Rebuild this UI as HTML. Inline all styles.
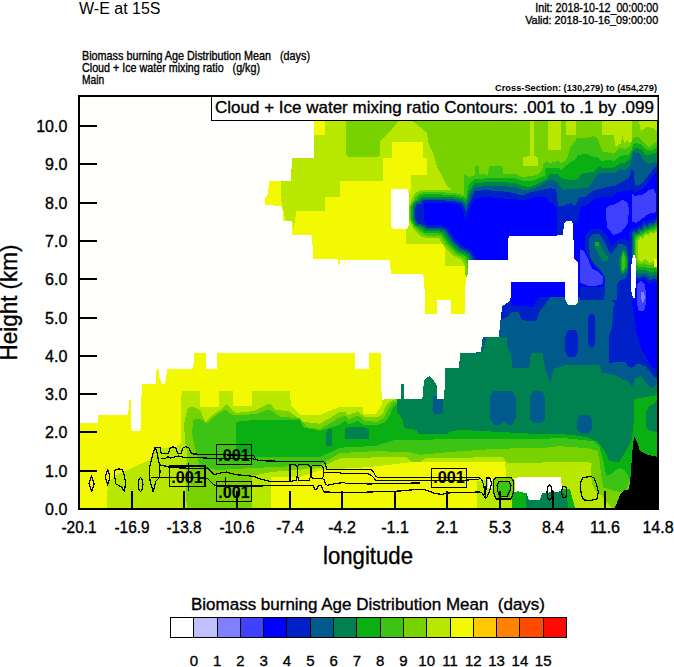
<!DOCTYPE html>
<html><head><meta charset="utf-8"><title>W-E at 15S</title><style>
html,body{margin:0;padding:0;background:#fff;width:674px;height:667px;overflow:hidden}
svg{display:block}
text{font-family:"Liberation Sans",sans-serif;white-space:pre;fill:#000}
.s{stroke:#000;stroke-width:0.35px}
</style></head><body>
<svg width="674" height="667" viewBox="0 0 674 667">
<text x="79" y="13.5" font-size="16" textLength="81.5" lengthAdjust="spacingAndGlyphs">W-E at 15S</text>
<text x="82" y="60" font-size="12.4" class="s" textLength="228" lengthAdjust="spacingAndGlyphs">Biomass burning Age Distribution Mean   (days)</text>
<text x="82" y="72" font-size="12.4" class="s" textLength="178" lengthAdjust="spacingAndGlyphs">Cloud + Ice water mixing ratio   (g/kg)</text>
<text x="82" y="84" font-size="12.4" class="s" textLength="22.2" lengthAdjust="spacingAndGlyphs">Main</text>
<text x="658.2" y="12" font-size="12.2" class="s" text-anchor="end" textLength="123" lengthAdjust="spacingAndGlyphs">Init: 2018-10-12_00:00:00</text>
<text x="658.2" y="24" font-size="11.4" class="s" text-anchor="end" textLength="133" lengthAdjust="spacingAndGlyphs">Valid: 2018-10-16_09:00:00</text>
<text x="657" y="91.2" font-size="8.4" font-weight="bold" text-anchor="end" textLength="162" lengthAdjust="spacingAndGlyphs">Cross-Section: (130,279) to (454,279)</text>
<rect x="79" y="96" width="579" height="413" fill="#FEFEFC"/>
<g shape-rendering="crispEdges">
<rect x="80" y="97" width="577" height="411" fill="#F3F900"/>
<path fill="#B9E800" fill-rule="evenodd" d="M292.0 157.5L291.0 180.7L281.0 180.7L281.0 197.0L281.9 205.9L283.7 212.1L285.5 220.1L292.6 221.9L293.5 227.3L295.2 220.1L296.1 211.2L325.3 211.2L325.3 197.0L339.6 197.0L339.6 180.7L383.2 180.7L383.2 158.4L392.1 158.4L392.1 142.4L422.9 142.4L422.9 158.4L426.8 158.4L426.8 175.3L410.8 175.3L410.8 189.0L408.5 197.0L405.5 229.0L405.5 244.0L444.5 244.0L445.3 266.4L470.0 266.4L470.0 250.0L657.0 250.0L657.0 121.0L325.3 121.0L325.3 134.7L314.0 134.7L314.0 157.5ZM271.2 477.4L300.0 477.0L320.0 470.0L370.0 467.0L409.0 462.5L505.0 462.0L506.5 479.0L477.0 481.0L477.0 508.0L657.0 508.0L657.0 297.0L466.0 297.0L465.5 314.0L383.0 320.0L382.7 399.6L381.0 406.7L375.6 413.8L363.1 413.8L363.1 406.7L340.0 406.7L320.0 414.8L300.0 414.8L290.8 405.0L289.9 390.5L251.6 390.5L251.6 405.9L232.9 405.9L232.9 390.5L218.7 390.5L218.7 406.8L200.0 406.8L200.0 391.3L182.4 391.3L181.0 397.0L180.6 427.3L180.6 443.3L176.1 446.9L154.8 448.6L149.4 460.2L138.8 464.7L129.8 469.1L115.6 475.3L108.5 482.5L107.1 493.1L106.7 508.0L271.2 508.0Z"/>
<path fill="#78D200" fill-rule="evenodd" d="M378.0 156.6L379.6 155.8L379.6 143.0L381.4 139.7L391.2 130.0L398.3 121.0L346.3 121.0L346.3 155.0L348.0 156.6ZM434.0 155.8L437.5 168.2L440.0 171.8L447.0 186.0L451.7 190.4L440.8 189.7L440.0 189.7L424.3 189.7L423.0 189.8L421.8 189.9L420.5 190.3L419.3 190.7L418.2 191.2L417.1 191.9L416.1 192.7L415.1 193.5L414.3 194.5L413.5 195.5L412.8 196.6L412.3 197.7L411.9 198.9L411.5 200.2L411.4 201.4L410.0 203.6L409.7 204.2L409.4 204.7L409.2 205.3L409.1 205.8L409.0 206.4L409.0 207.0L409.0 219.0L409.0 219.6L409.1 220.1L409.2 220.7L409.4 221.2L409.6 221.7L409.9 222.2L411.7 225.3L411.9 225.8L412.3 227.0L412.9 228.2L413.5 229.3L414.3 230.3L415.2 231.2L416.1 232.1L419.8 235.1L420.8 235.8L421.9 236.5L423.1 237.0L424.3 237.4L425.5 237.8L426.7 237.9L428.0 238.0L437.9 238.0L438.8 238.3L443.4 245.1L444.1 246.1L444.9 247.0L452.1 254.4L452.9 255.2L453.9 255.9L454.9 256.5L455.9 257.1L462.2 260.0L464.5 264.6L464.8 265.2L467.0 297.0L466.0 297.0L465.5 314.0L395.5 320.0L395.2 399.6L389.8 401.4L386.3 404.9L382.7 413.8L377.4 417.4L364.9 417.4L363.1 415.6L357.8 412.0L350.7 413.8L348.0 415.6L345.3 412.0L340.0 412.0L320.0 423.7L303.3 421.9L296.1 416.6L289.0 411.2L274.8 409.5L271.2 404.1L267.7 404.1L253.4 411.2L235.6 413.0L230.3 407.7L226.7 404.1L223.1 407.7L210.7 416.6L205.3 421.9L200.0 410.0L194.0 406.8L187.7 407.7L184.1 423.7L185.0 441.5L186.8 450.4L185.9 489.6L186.8 508.0L251.6 508.0L251.6 476.0L271.0 472.0L320.0 468.0L340.0 458.3L405.9 456.6L411.2 461.9L420.1 461.9L425.5 458.3L503.0 457.0L507.0 463.0L540.0 462.6L559.2 461.6L591.8 462.6L590.9 470.2L591.8 483.7L595.7 491.4L601.4 495.2L609.1 504.8L612.0 508.0L657.0 508.0L657.0 121.0L412.6 121.0L426.8 132.6L428.6 143.3Z"/>
<path fill="#B9E800" fill-rule="evenodd" d="M653.0 128.0L657.0 131.0L657.0 121.0L639.0 121.0L641.0 131.0L647.0 127.0ZM576.1 121.0L566.2 121.0L566.2 134.6L576.1 134.6ZM615.8 147.6L621.2 143.0L622.7 135.3L624.2 143.0L627.3 139.9L628.8 143.0L631.9 141.5L631.9 121.0L602.1 121.0L602.1 134.6L613.5 134.6ZM548.0 121.0L548.0 150.4L561.0 150.4L561.0 121.0ZM537.9 165.5L537.9 157.5L534.0 155.8L534.0 121.0L529.9 121.0L529.9 155.8L523.3 157.5L523.3 165.5Z"/>
<path fill="#3CC314" fill-rule="evenodd" d="M410.4 206.1L410.3 206.5L410.3 207.0L410.3 219.0L410.3 219.4L410.4 219.9L410.5 220.3L410.6 220.8L410.8 221.2L411.0 221.6L413.7 226.1L414.0 226.5L414.3 226.9L414.7 227.2L415.1 227.5L415.5 227.8L415.6 227.9L416.2 228.7L416.9 229.5L417.7 230.2L421.4 233.2L422.2 233.8L423.1 234.3L424.0 234.7L425.0 235.1L426.0 235.3L427.0 235.5L428.0 235.5L438.3 235.5L440.4 236.2L445.5 243.7L446.0 244.5L446.7 245.2L453.9 252.6L454.6 253.3L455.3 253.9L456.1 254.4L457.0 254.8L463.5 257.9L464.1 258.2L466.7 263.5L467.3 264.5L467.3 264.5L469.5 297.0L466.0 297.0L465.5 314.0L397.5 320.0L397.0 401.4L391.6 403.1L388.1 410.3L384.5 417.4L377.4 421.8L364.9 420.9L363.1 419.2L357.8 415.6L348.9 419.2L345.3 415.6L340.0 417.4L320.0 429.0L306.8 427.3L299.7 418.4L280.1 416.6L273.0 411.2L267.7 409.5L257.0 413.9L244.5 414.8L232.0 414.8L224.9 409.5L214.2 416.6L207.1 423.7L200.0 418.4L193.0 420.1L192.2 432.6L193.9 443.3L200.0 468.0L218.0 470.0L253.0 468.0L320.0 465.0L340.0 453.0L375.6 451.2L407.7 452.1L420.1 454.8L460.0 451.2L500.0 448.6L540.0 448.2L559.2 446.2L588.0 448.2L597.6 451.0L599.5 460.6L601.4 476.0L603.4 487.5L616.8 491.4L625.0 493.0L630.0 480.0L657.0 462.6L657.0 142.0L654.8 143.0L648.7 147.6L642.6 141.5L639.5 137.6L636.5 136.9L632.6 138.4L630.4 146.0L625.0 149.0L619.7 147.6L613.5 153.7L610.0 152.7L602.8 152.1L601.3 149.1L598.0 139.2L593.7 136.1L585.0 138.5L577.6 138.0L572.3 145.0L570.0 147.5L568.0 156.7L565.3 161.0L561.2 163.1L558.0 161.0L550.0 163.2L546.6 161.0L543.5 164.2L541.4 171.4L538.0 175.0L530.0 176.1L522.4 177.0L516.6 174.4L503.2 174.4L502.3 166.4L489.0 166.4L488.0 175.0L484.0 173.7L479.3 174.0L479.3 166.3L475.4 166.3L475.4 175.0L469.0 177.0L466.0 175.5L464.0 173.2L464.0 195.3L463.3 195.0L462.3 194.8L455.7 193.3L454.9 193.1L454.0 193.0L440.6 192.2L440.0 192.2L424.3 192.2L423.3 192.3L422.3 192.4L421.3 192.7L420.3 193.0L419.4 193.4L418.5 194.0L417.6 194.6L416.9 195.3L416.2 196.0L415.6 196.9L415.0 197.8L414.6 198.7L414.3 199.7L414.2 199.7L413.9 200.0L413.6 200.4L413.3 200.8L411.1 204.3L410.8 204.7L410.6 205.2L410.5 205.6Z"/>
<path fill="#0AAF14" fill-rule="evenodd" d="M411.3 206.2L411.2 206.6L411.2 207.0L411.2 219.0L411.2 219.4L411.3 219.7L411.3 220.1L411.5 220.4L411.6 220.8L411.8 221.1L414.5 225.6L414.7 226.0L415.0 226.3L415.3 226.6L415.6 226.8L415.9 227.0L416.3 227.2L416.7 227.4L417.1 227.5L418.4 227.8L418.5 227.9L419.1 228.4L422.8 231.4L423.4 231.9L424.1 232.3L424.8 232.7L425.6 232.9L426.4 233.1L427.2 233.3L428.0 233.3L438.7 233.3L441.8 234.3L447.3 242.5L447.8 243.1L448.3 243.7L455.5 251.1L456.0 251.6L456.6 252.1L457.2 252.5L457.9 252.8L464.6 255.9L465.7 256.6L468.7 262.5L469.1 263.3L469.4 263.7L471.7 297.0L466.0 297.0L465.5 314.0L398.0 320.0L397.0 403.1L393.4 406.7L389.8 415.6L384.5 422.7L375.6 425.4L363.1 424.5L357.8 420.9L348.9 424.5L345.3 420.9L340.0 424.5L320.0 430.8L303.3 427.3L299.7 420.1L253.4 420.1L235.6 421.9L235.6 457.5L320.0 457.0L340.0 447.7L375.6 445.9L393.4 440.5L460.0 438.8L540.0 439.5L559.2 437.6L578.4 439.5L593.8 441.4L599.5 447.2L603.4 460.6L606.2 476.0L611.0 474.1L614.9 470.2L620.6 468.3L624.5 470.2L628.3 476.0L630.2 479.8L657.0 470.4L657.0 146.7L651.7 150.6L645.6 149.1L641.0 144.5L636.5 143.0L633.4 144.5L631.9 149.1L628.8 155.2L625.0 155.0L619.7 156.7L613.5 161.3L610.0 159.5L601.3 161.3L598.0 157.2L593.7 156.7L585.0 153.5L578.4 155.2L574.7 160.0L570.0 162.5L561.2 170.0L559.1 167.8L550.0 168.0L545.6 168.3L544.5 175.6L538.0 178.7L530.0 181.5L522.4 180.5L516.0 178.5L500.0 177.9L484.0 178.5L474.4 179.5L468.0 185.0L467.0 195.3L465.1 198.5L464.9 198.3L464.2 197.8L463.4 197.4L462.6 197.1L461.8 196.9L455.2 195.4L454.6 195.3L453.9 195.2L440.5 194.4L440.0 194.4L424.3 194.4L423.5 194.4L422.7 194.6L421.9 194.8L421.1 195.0L420.4 195.4L419.7 195.8L419.0 196.3L418.4 196.8L417.9 197.4L417.4 198.1L417.0 198.8L416.6 199.5L416.3 199.6L415.9 199.7L415.5 199.9L415.2 200.1L414.8 200.4L414.5 200.7L414.3 201.0L414.0 201.3L411.8 204.8L411.6 205.2L411.5 205.5L411.4 205.9Z"/>
<path fill="#008250" fill-rule="evenodd" d="M412.6 206.7L412.6 207.0L412.6 219.0L412.6 219.2L412.6 219.5L412.7 219.7L412.8 220.0L412.9 220.2L413.0 220.4L415.7 224.9L415.8 225.1L416.0 225.3L416.2 225.5L416.4 225.7L416.6 225.8L416.9 226.0L417.1 226.1L417.4 226.1L420.6 226.9L424.2 229.7L424.6 230.1L425.1 230.4L425.7 230.6L426.2 230.8L426.8 231.0L427.4 231.1L428.0 231.1L439.0 231.1L443.2 232.5L449.1 241.3L449.5 241.7L449.8 242.2L457.0 249.6L457.4 249.9L457.9 250.3L458.3 250.6L458.8 250.8L465.6 254.0L467.4 255.1L470.6 261.5L471.0 262.1L471.3 262.6L471.6 262.9L473.9 297.0L466.0 297.0L465.5 314.0L399.0 320.0L397.0 399.6L397.0 412.0L402.3 419.2L404.1 428.1L416.6 429.8L418.3 434.3L446.8 434.3L450.4 431.6L460.0 429.8L500.0 432.0L540.0 434.1L559.2 433.8L578.4 435.7L588.0 437.6L597.6 441.4L603.4 449.1L609.1 460.6L618.7 462.6L624.5 453.0L630.2 443.4L632.2 437.6L634.0 420.0L634.0 399.0L657.0 395.2L657.0 152.6L654.8 153.7L645.6 155.2L641.0 149.1L636.5 147.6L632.6 150.6L630.4 158.3L625.0 162.5L621.2 163.0L615.1 167.0L610.0 168.4L598.0 167.0L593.7 172.0L585.0 173.0L580.9 174.0L578.8 178.7L570.0 180.4L561.2 178.0L558.0 173.5L550.0 174.0L546.0 179.7L538.0 183.5L530.0 187.0L522.4 186.0L514.8 183.0L500.0 181.9L484.0 182.4L474.4 183.4L469.0 192.0L467.1 199.4L465.7 202.0L465.5 202.3L465.2 201.9L464.9 201.4L464.5 200.9L464.1 200.4L463.6 200.1L463.1 199.7L462.5 199.4L461.9 199.2L461.4 199.1L454.8 197.6L454.3 197.5L453.8 197.4L440.4 196.6L440.0 196.6L424.3 196.6L423.7 196.6L423.1 196.7L422.5 196.9L422.0 197.1L421.4 197.3L420.9 197.6L420.4 198.0L420.0 198.4L419.6 198.8L419.2 199.3L418.9 199.8L418.7 200.4L418.5 200.8L417.5 200.8L417.2 200.8L417.0 200.9L416.7 200.9L416.4 201.0L416.2 201.1L416.0 201.3L415.7 201.4L415.5 201.6L415.4 201.8L415.2 202.1L413.0 205.6L412.9 205.8L412.8 206.0L412.7 206.3L412.6 206.5ZM369.4 430.0L365.0 427.2L350.0 427.2L344.5 428.0L344.5 438.8L369.4 438.8ZM328.0 429.3L326.5 433.0L325.7 445.7L331.6 445.7L331.6 429.3Z"/>
<path fill="#005A8C" fill-rule="evenodd" d="M414.0 206.9L414.0 207.0L414.0 219.0L414.0 219.1L414.0 219.2L414.0 219.3L414.1 219.5L414.1 219.6L414.2 219.7L416.9 224.2L417.0 224.3L417.0 224.4L417.1 224.5L417.2 224.6L417.3 224.6L417.5 224.7L417.6 224.7L417.7 224.8L422.4 225.8L425.4 228.3L425.7 228.5L426.0 228.7L426.4 228.9L426.8 229.0L427.2 229.1L427.6 229.2L428.0 229.2L439.3 229.2L444.4 230.8L450.7 240.2L450.9 240.5L451.2 240.8L458.4 248.2L458.7 248.5L459.0 248.7L459.3 248.9L459.6 249.1L466.5 252.3L468.9 253.8L472.3 260.7L472.6 261.1L472.8 261.4L473.1 261.8L473.4 262.1L475.8 297.0L470.0 297.0L470.0 320.0L444.5 340.0L444.5 368.3L458.7 368.3L460.5 353.2L480.9 353.2L482.7 350.5L487.2 337.2L506.8 337.2L507.7 348.8L511.2 354.1L512.1 368.3L529.0 368.3L530.8 353.2L542.4 353.2L545.0 368.3L550.4 382.6L553.9 368.3L557.0 368.0L566.2 364.9L599.8 364.9L602.1 372.5L616.6 375.6L621.2 378.6L628.8 381.7L631.9 387.8L634.9 378.6L641.0 375.6L645.6 381.7L651.7 387.8L657.0 385.2L657.0 161.6L648.7 164.4L644.1 161.3L639.5 153.7L633.4 152.1L631.9 158.3L630.4 165.9L625.0 170.0L619.7 169.0L615.1 173.5L610.0 173.0L598.0 173.7L592.3 182.0L588.2 187.5L580.9 188.0L577.8 189.1L570.0 189.4L563.2 189.6L558.0 184.0L555.0 181.0L550.0 180.0L546.6 181.3L538.0 187.0L530.0 189.5L522.4 189.5L514.8 187.0L500.0 186.0L484.0 186.3L474.4 187.3L469.5 196.0L468.4 201.1L467.3 202.9L467.2 203.3L467.0 203.7L466.0 206.8L463.6 202.8L463.4 202.5L463.1 202.2L462.8 201.9L462.5 201.6L462.1 201.4L461.7 201.2L461.3 201.0L460.9 200.9L454.3 199.4L454.0 199.3L453.7 199.3L440.3 198.5L440.0 198.5L424.3 198.5L423.9 198.5L423.5 198.6L423.1 198.7L422.7 198.8L422.3 199.0L422.0 199.2L421.6 199.5L421.3 199.7L421.1 200.0L420.8 200.4L420.6 200.7L420.4 201.1L420.3 201.5L420.2 201.9L420.1 202.2L417.5 202.2L417.4 202.2L417.2 202.2L417.1 202.3L417.0 202.3L416.9 202.4L416.8 202.4L416.7 202.5L416.6 202.6L416.5 202.7L416.4 202.8L414.2 206.3L414.1 206.4L414.1 206.5L414.1 206.6L414.0 206.8ZM443.0 411.0L443.0 396.0L432.5 396.0L432.5 411.0L435.0 414.3L440.0 414.3ZM541.0 422.6L544.6 420.0L544.6 396.0L542.0 391.4L533.0 391.4L530.1 396.0L530.1 420.0L533.0 422.6ZM504.0 420.0L507.0 424.7L512.0 424.7L515.6 418.0L515.6 396.0L512.0 391.4L493.0 391.4L490.0 396.0L490.0 418.0L494.0 424.7L501.0 424.7ZM591.8 430.0L591.8 419.0L589.0 414.6L580.0 414.6L577.4 419.0L577.4 430.0L580.0 432.8L589.0 432.8Z"/>
<path fill="#0020C8" fill-rule="evenodd" d="M415.3 207.0L415.3 207.0L415.3 219.0L415.3 219.0L415.3 219.0L415.3 219.0L415.3 219.0L415.3 219.0L415.3 219.0L418.0 223.5L418.0 223.5L418.0 223.5L418.0 223.5L418.0 223.5L418.0 223.5L418.0 223.5L418.0 223.5L418.0 223.5L423.9 224.9L426.4 226.9L426.6 227.1L426.8 227.2L427.1 227.3L427.3 227.4L427.5 227.5L427.8 227.5L428.0 227.5L439.6 227.5L445.5 229.4L452.1 239.3L452.3 239.5L452.4 239.6L459.6 247.0L459.8 247.2L460.0 247.3L460.1 247.5L460.3 247.6L467.3 250.8L470.2 252.6L473.9 259.9L474.0 260.2L474.2 260.4L474.3 260.6L475.1 261.3L477.5 297.0L500.0 297.0L500.5 320.3L507.7 316.7L511.2 312.3L518.3 311.4L521.9 320.3L536.1 321.2L539.7 311.4L550.4 297.1L550.7 297.0L557.0 297.0L580.0 297.0L587.6 297.0L587.6 299.0L609.7 297.0L615.1 303.8L613.5 306.8L612.0 328.2L609.0 335.8L609.0 363.4L616.6 361.8L625.8 361.8L627.3 366.4L631.9 367.9L638.0 363.4L645.6 366.4L654.8 377.1L657.0 378.1L657.0 165.3L654.8 167.4L648.7 175.1L642.6 182.7L638.0 185.8L634.9 184.2L633.4 170.5L631.9 169.0L628.8 178.1L625.0 180.4L615.1 185.8L610.0 186.4L598.0 189.4L592.3 191.2L585.0 197.0L578.8 197.4L577.8 201.5L574.7 205.7L570.0 203.0L563.2 205.7L558.0 206.0L557.0 195.0L556.0 189.1L550.0 188.3L538.0 190.7L530.0 192.5L522.4 195.5L514.8 193.0L500.0 190.9L484.0 190.2L474.4 191.2L471.7 198.7L468.8 203.8L468.7 204.0L468.6 204.2L466.1 211.9L465.4 209.4L465.3 209.1L465.3 208.9L465.1 208.7L462.1 203.7L462.0 203.5L461.8 203.3L461.7 203.1L461.5 203.0L461.3 202.8L461.0 202.7L460.8 202.6L460.6 202.6L454.0 201.1L453.8 201.0L453.5 201.0L440.1 200.2L440.0 200.2L424.3 200.2L424.1 200.2L423.8 200.2L423.6 200.3L423.3 200.4L423.1 200.5L422.9 200.6L422.7 200.8L422.5 200.9L422.4 201.1L422.2 201.3L422.1 201.5L422.0 201.7L421.9 202.0L421.8 202.2L421.8 202.5L421.8 202.7L421.8 203.5L417.5 203.5L417.5 203.5L417.5 203.5L417.5 203.5L417.5 203.5L417.5 203.5L417.5 203.5L417.5 203.5L417.5 203.5L417.5 203.5L417.5 203.5L415.3 207.0L415.3 207.0L415.3 207.0L415.3 207.0L415.3 207.0ZM595.2 344.0L595.2 318.0L593.5 313.7L590.0 313.7L588.3 318.0L588.3 344.0L592.0 348.8ZM578.4 352.0L578.4 336.0L576.0 330.0L568.0 330.0L565.4 336.0L565.4 352.0L568.0 357.2L575.0 357.2Z"/>
<path fill="#0000FF" fill-rule="evenodd" d="M463.0 210.0L460.0 205.0L453.4 203.5L440.0 202.7L424.3 202.7L424.3 222.0L428.0 225.0L440.0 225.0L447.1 227.3L454.2 237.9L461.4 245.3L468.5 248.6L472.1 250.8L476.1 258.8L477.5 260.2L480.0 297.0L511.1 297.0L511.2 305.1L520.1 306.0L532.6 306.9L537.9 298.9L539.7 297.0L631.2 297.0L631.9 303.8L634.9 320.6L636.5 332.8L639.5 343.5L642.6 351.1L648.7 361.8L653.3 367.9L657.0 369.2L657.0 171.4L654.8 173.5L648.7 182.7L642.6 188.8L634.9 193.0L631.9 188.8L630.4 190.3L618.1 191.9L613.5 196.5L595.2 198.0L593.7 202.6L592.3 199.5L588.2 204.7L580.9 206.7L578.8 216.1L577.8 222.3L563.2 222.3L562.2 216.1L557.0 210.9L553.9 203.6L548.7 201.5L547.7 197.4L538.0 196.7L530.0 198.5L522.4 200.3L516.0 199.5L510.0 199.0L500.0 198.1L484.0 197.0L474.4 199.0L471.0 205.0L468.0 214.0L465.5 219.5Z"/>
<path fill="#0020C8" fill-rule="evenodd" d="M557.0 235.2L563.1 235.2L566.0 220.0L563.0 212.0L557.0 212.0Z"/>
<path fill="#4040FF" fill-rule="evenodd" d="M642.6 218.4L648.7 213.8L656.3 212.3L656.0 193.4L653.3 188.8L648.7 190.3L642.6 194.9L638.0 194.9L634.9 196.5L631.9 193.4L631.9 221.4L636.5 223.0ZM613.5 235.2L621.2 232.0L627.3 224.5L628.8 212.3L628.8 208.7L627.3 202.6L622.7 199.5L618.1 202.6L613.5 204.9L609.0 205.6L605.9 208.7L605.9 216.0L607.4 227.6ZM596.7 285.6L602.8 284.1L602.8 276.5L598.3 271.9L592.1 268.8L587.6 258.1L583.0 249.7L579.9 250.5L579.9 282.6L587.6 285.6ZM639.0 311.4L644.0 311.4L646.4 302.0L646.4 300.0L646.4 290.0L645.5 290.0L645.0 284.0L641.0 281.0L637.0 284.0L636.5 300.0L636.6 300.3L636.5 302.0Z"/>
<path fill="#8080FF" fill-rule="evenodd" d="M641.0 298.0L643.0 304.0L645.0 298.0L644.0 292.0L641.0 292.0Z"/>
<path fill="#0020C8" fill-rule="evenodd" d="M585.0 248.0L588.0 258.0L594.0 266.0L601.0 272.0L604.5 280.0L603.0 287.0L580.0 287.0L580.0 300.0L634.0 300.0L633.0 290.0L630.0 275.0L631.0 252.0L629.5 241.0L623.0 238.5L617.0 240.0L612.0 246.0L607.0 236.0L601.0 228.5L591.0 229.0L585.0 236.0Z"/>
<path fill="#005A8C" fill-rule="evenodd" d="M589.0 247.0L590.5 257.0L595.0 265.0L601.0 271.0L605.0 277.0L605.5 285.0L604.0 300.0L617.0 300.0L616.5 285.0L620.0 280.0L626.0 278.0L628.0 272.0L628.5 256.0L627.0 247.0L622.5 244.0L618.2 244.5L614.6 248.8L611.0 254.8L608.6 250.0L603.8 240.4L599.0 233.8L593.0 234.4L589.4 238.0Z"/>
<path fill="#008250" fill-rule="evenodd" d="M594.8 246.4L599.0 254.8L602.6 260.8L607.4 261.4L608.6 257.2L602.6 250.0L599.0 241.6L594.8 241.6Z"/>
<path fill="#0AAF14" fill-rule="evenodd" d="M595.4 246.4L599.5 246.4L599.0 241.6L595.4 241.6Z"/>
<path fill="#008250" fill-rule="evenodd" d="M619.4 268.0L621.0 274.0L624.0 274.0L627.8 268.0L627.8 258.0L625.0 250.0L622.0 250.0L619.4 258.0Z"/>
<path fill="#0AAF14" fill-rule="evenodd" d="M620.7 267.8L622.0 272.7L623.3 272.7L626.5 267.6L626.5 258.2L624.1 251.3L622.9 251.3L620.7 258.2Z"/>
<path fill="#3CC314" fill-rule="evenodd" d="M622.0 267.7L622.9 270.9L625.2 267.2L625.2 258.4L623.5 253.7L622.0 258.4Z"/>
<path fill="#0020C8" fill-rule="evenodd" d="M629.0 270.5L631.5 277.1L638.9 280.8L643.8 278.3L649.2 283.7L654.3 281.2L657.0 285.0L657.0 216.9L653.5 219.3L651.9 220.9L648.8 219.4L646.6 222.7L643.6 219.7L640.5 226.0L638.0 224.8L635.3 228.8L632.7 227.6L629.0 232.6Z"/>
<path fill="#005A8C" fill-rule="evenodd" d="M631.5 270.0L633.5 275.3L638.9 278.0L644.3 275.3L649.7 280.7L655.1 278.0L657.0 280.7L657.0 219.9L655.1 221.2L652.4 223.9L649.7 222.6L647.0 226.6L644.3 223.9L641.6 229.3L638.9 228.0L636.2 232.0L633.5 230.7L631.5 233.4Z"/>
<path fill="#008250" fill-rule="evenodd" d="M632.7 267.8L635.1 272.6L640.3 274.2L645.4 272.9L650.5 276.6L655.1 274.6L657.0 276.9L657.0 222.2L655.4 223.3L653.0 225.5L650.5 224.9L647.8 227.7L645.1 226.3L642.4 230.3L639.7 230.2L637.0 233.1L634.5 232.6L632.7 235.1Z"/>
<path fill="#0AAF14" fill-rule="evenodd" d="M633.9 265.6L636.7 269.9L641.6 270.4L646.5 270.4L651.3 272.6L655.1 271.2L657.0 273.1L657.0 224.5L655.7 225.3L653.6 227.1L651.3 227.2L648.6 228.8L645.9 228.8L643.2 231.2L640.5 232.3L637.8 234.2L635.5 234.5L633.9 236.8Z"/>
<path fill="#3CC314" fill-rule="evenodd" d="M635.2 263.4L638.4 267.2L643.0 266.6L647.5 268.0L652.2 268.5L655.0 267.8L657.0 269.4L657.0 226.8L655.9 227.4L654.3 228.8L652.2 229.5L649.5 229.8L646.8 231.2L644.1 232.2L641.4 234.5L638.7 235.2L636.5 236.3L635.2 238.6Z"/>
<path fill="#78D200" fill-rule="evenodd" d="M636.4 261.2L640.0 264.5L644.3 262.8L648.6 265.5L653.0 264.5L655.0 264.4L657.0 265.6L657.0 229.1L656.2 229.4L654.9 230.4L653.0 231.8L650.3 230.9L647.6 233.7L644.9 233.1L642.2 236.6L639.5 236.3L637.5 238.2L636.4 240.3Z"/>
<path fill="#B9E800" fill-rule="evenodd" d="M637.6 259.0L641.6 261.8L645.7 259.0L649.7 263.1L653.8 260.4L655.0 261.0L657.0 261.8L657.0 231.4L656.5 231.5L655.5 232.0L653.8 234.1L651.1 232.0L648.4 236.1L645.7 234.1L643.0 238.8L640.3 237.4L638.5 240.1L637.6 242.0Z"/>
<path fill="#F3F900" fill-rule="evenodd" d="M653.8 267.0L657.0 267.0L657.0 259.0L653.8 259.0Z"/>
<path fill="#008250" fill-rule="evenodd" d="M646.0 428.0L651.0 431.0L657.0 432.0L657.0 401.0L653.0 404.0L649.0 406.0L646.0 412.0Z"/>
<path fill="#78D200" fill-rule="evenodd" d="M493.5 492.0L496.0 499.0L511.0 499.0L513.5 492.0L513.5 481.0L511.0 478.0L496.0 478.0L493.5 480.0Z"/>
<path fill="#3CC314" fill-rule="evenodd" d="M498.0 497.0L510.0 497.0L510.0 482.0L498.0 482.0Z"/>
<path fill="#0AAF14" fill-rule="evenodd" d="M512.0 508.0L575.0 508.0L570.0 489.0L512.0 491.0Z"/>
<path fill="#008250" fill-rule="evenodd" d="M525.7 508.0L568.0 508.0L567.0 495.0L562.0 491.0L542.0 493.0L540.0 499.5L530.0 499.5L525.7 493.0Z"/>
<path fill="#FEFEFC" fill-rule="evenodd" d="M407.0 229.0L409.0 225.0L409.0 197.0L408.1 189.2L391.2 189.2L391.2 226.0L393.0 229.0ZM128.0 414.8L129.5 400.0L130.7 400.0L130.7 427.0L132.0 431.0L139.5 431.0L141.0 428.0L141.5 412.0L141.4 397.0L142.3 384.2L155.7 384.2L156.6 369.1L158.7 369.1L159.2 377.1L161.9 383.9L165.1 383.9L167.2 369.1L192.2 369.1L193.9 362.9L193.9 353.1L206.2 353.1L206.2 369.1L216.9 369.1L216.9 353.1L354.7 353.1L354.7 369.1L369.0 369.1L369.0 353.1L381.4 353.1L381.0 380.0L381.8 399.6L401.0 398.7L401.0 384.2L403.7 384.2L404.0 398.7L422.4 398.7L424.0 380.0L429.0 376.2L432.0 378.0L436.6 385.0L436.6 398.7L443.9 398.7L444.5 390.0L444.5 368.3L458.7 368.3L460.5 353.2L480.9 352.3L482.7 337.2L498.8 337.2L500.5 320.3L502.3 306.0L510.3 300.7L511.2 290.0L511.2 281.6L564.6 281.8L564.6 290.0L565.4 300.0L568.0 305.3L575.0 305.3L578.4 302.0L578.4 297.0L577.6 262.0L574.1 258.1L573.0 224.5L571.5 220.7L566.2 220.7L563.9 223.7L563.1 235.2L557.0 235.2L557.0 236.2L509.4 236.2L507.7 239.7L507.7 260.2L468.5 260.2L467.6 275.3L465.8 278.9L464.9 297.0L465.0 313.5L451.0 313.5L450.7 300.0L437.0 300.0L437.0 313.9L425.0 313.9L425.0 297.0L424.1 282.5L423.3 274.4L391.2 274.4L389.4 260.2L340.5 260.2L338.7 266.4L337.8 259.5L313.0 259.3L312.2 235.3L292.2 235.3L291.8 221.0L282.8 221.0L282.8 212.1L281.9 205.9L265.0 205.0L265.0 197.0L267.3 197.0L269.5 180.7L291.0 180.7L292.0 157.5L314.0 157.5L314.0 97.0L80.0 97.0L80.0 422.8L97.8 422.8L97.8 414.8ZM633.0 298.0L634.9 298.4L635.0 297.0L636.0 280.0L636.5 265.8L635.5 258.0L634.2 253.5L632.5 258.0L631.1 265.8L631.1 290.0ZM492.5 488.0L491.0 483.0L492.5 478.0L487.3 478.0L488.5 483.0L487.3 488.0ZM517.3 490.4L517.4 491.2L526.7 493.2L528.8 499.5L540.2 499.5L542.0 493.2L562.0 491.2L561.0 476.6L518.4 476.6L517.1 478.7L517.0 478.0L514.3 478.0L515.5 485.0L514.3 492.0L517.0 492.0Z"/>
<path fill="#000" fill-rule="evenodd" d="M657.0 508.0L657.0 456.8L647.5 454.9L639.8 451.0L637.9 443.4L634.1 435.7L632.2 453.0L630.2 481.8L628.3 489.4L624.5 490.4L620.6 493.3L614.9 508.0Z"/>
<path d="M155.0 447.5L160.0 447.2L161.0 453.0L165.0 453.4L168.3 453.4L170.3 448.0L173.0 446.7L175.7 448.0L177.7 453.4L181.0 453.4L183.0 448.0L185.7 446.7L189.0 448.0L191.0 452.7L193.0 454.0L216.4 454.7L251.8 455.4L254.0 456.0L255.7 459.6L260.0 460.8L290.0 461.4L323.0 461.4L324.7 462.5L325.6 465.1L326.5 469.1L370.0 469.3L372.9 471.0L375.5 476.0L378.2 477.8L431.3 477.8L479.3 477.8L481.5 479.5L483.5 484.0L484.5 490.0L485.5 498.5M161.0 458.7L165.0 458.7L167.7 456.7L170.3 458.0L178.4 456.0L183.7 457.4L193.0 457.4L205.0 458.0L216.4 458.7L251.8 458.5L255.0 459.5M290.0 464.2L293.0 464.5M323.8 472.7L339.9 472.7L340.8 473.6L368.0 473.6L372.0 476.0L376.0 480.2L380.0 480.2L431.3 480.2L466.6 480.2L471.0 479.6L479.3 479.6M159.6 464.9L168.5 466.7L169.3 467.6L204.8 468.7L207.7 468.0L210.4 470.7L214.4 474.7L218.4 473.4L226.4 472.0L235.8 474.7L245.1 475.4L255.0 476.7L260.0 479.0L270.0 481.4L290.0 481.6L295.3 480.3M323.8 478.5L325.6 484.3L327.4 485.2L334.5 483.8L343.4 482.5L346.1 483.4L371.0 484.0L377.0 483.5L420.0 483.0M150.7 477.4L169.3 477.4L204.8 478.0L207.7 478.7L213.0 484.0L216.4 486.0L251.8 486.0L255.0 486.0L290.0 485.6L313.2 485.6L314.9 489.2L316.7 489.2L318.5 485.6L321.2 485.6L323.8 491.9L350.0 492.7L400.0 491.0L420.0 489.1L427.1 490.3L434.2 493.2L441.4 494.4L447.3 493.2L453.2 492.6L479.3 492.0L482.0 493.0L485.5 498.5M188.4 463.4L188.4 490.7M225.7 477.4L225.7 496.0M155.0 447.5L153.5 452.0L152.0 458.0L150.0 465.0L149.4 472.0L150.0 480.0L151.5 486.0L153.0 491.6L154.5 487.0L156.0 481.0L159.0 478.0L160.0 472.0L159.6 464.9L158.0 458.0L157.0 452.0ZM89.0 483.7L91.6 476.0L94.2 483.7L91.6 491.5ZM105.3 477.0L107.7 469.6L110.0 477.0L107.7 485.0ZM115.0 470.0L119.0 468.8L122.5 470.0L124.5 476.0L125.5 483.0L124.5 491.5L121.5 487.0L116.0 484.0L114.6 476.0ZM138.2 484.5L139.0 479.0L140.5 477.7L142.0 479.0L142.9 484.5L142.0 490.0L140.5 491.4L139.0 490.0ZM290.0 464.2L295.0 464.5L297.1 467.0L297.5 474.0L296.0 480.3L290.0 481.6ZM297.1 467.0L299.0 464.7L308.0 464.7L310.9 467.0L310.9 476.0L309.0 480.3L299.0 480.3L297.5 476.0ZM310.9 467.0L313.0 465.1L321.0 465.1L323.8 468.0L323.8 476.0L322.0 478.5L313.0 478.5L310.9 476.0ZM486.5 478.0L490.0 478.0L491.5 483.0L490.0 490.0L487.0 497.0L485.5 498.5ZM493.6 480.0L496.0 477.7L511.0 477.7L513.5 481.0L513.5 492.0L511.0 499.0L496.0 499.0L493.6 492.0ZM497.0 485.0L499.0 481.5L509.0 481.5L511.0 485.0L510.0 491.0L507.0 496.5L500.0 496.5L497.5 491.0ZM546.9 492.0L548.0 486.0L549.5 485.0L551.0 486.0L552.2 492.0L551.0 499.0L549.5 500.0L548.0 499.0ZM561.6 492.0L562.5 487.0L564.2 486.5L566.0 487.0L566.9 492.0L566.0 497.0L564.2 497.7L562.5 497.0ZM580.7 482.0L583.0 477.5L591.0 476.6L594.0 478.0L596.0 483.0L598.4 492.0L597.0 499.0L591.0 500.5L584.0 500.0L581.5 496.0L580.7 489.0Z" fill="none" stroke="#000" stroke-width="1.2" stroke-linejoin="round" shape-rendering="crispEdges"/>
<rect x="216.4" y="444.3" width="35.4" height="20.4" fill="none" stroke="#000" stroke-width="1.4"/>
<text x="234.1" y="460.6" font-size="16.5" font-weight="bold" text-anchor="middle" textLength="31.5" lengthAdjust="spacingAndGlyphs">.001</text>
<rect x="169.3" y="466" width="35.5" height="20.7" fill="none" stroke="#000" stroke-width="1.4"/>
<text x="187.1" y="482.6" font-size="16.5" font-weight="bold" text-anchor="middle" textLength="31.5" lengthAdjust="spacingAndGlyphs">.001</text>
<rect x="216.4" y="481.4" width="35.4" height="20.3" fill="none" stroke="#000" stroke-width="1.4"/>
<text x="234.1" y="497.6" font-size="16.5" font-weight="bold" text-anchor="middle" textLength="31.5" lengthAdjust="spacingAndGlyphs">.001</text>
<rect x="431.3" y="468.3" width="35.3" height="19.2" fill="none" stroke="#000" stroke-width="1.4"/>
<text x="449.0" y="483.4" font-size="16.5" font-weight="bold" text-anchor="middle" textLength="31.5" lengthAdjust="spacingAndGlyphs">.001</text>
</g>
<rect x="79" y="96" width="579" height="413" fill="none" stroke="#000" stroke-width="2"/>
<text class="s" x="67.3" y="514.9" font-size="16" text-anchor="end">0.0</text>
<text class="s" x="67.3" y="476.9" font-size="16" text-anchor="end">1.0</text>
<text class="s" x="67.3" y="437.9" font-size="16" text-anchor="end">2.0</text>
<text class="s" x="67.3" y="399.9" font-size="16" text-anchor="end">3.0</text>
<text class="s" x="67.3" y="361.9" font-size="16" text-anchor="end">4.0</text>
<text class="s" x="67.3" y="323.9" font-size="16" text-anchor="end">5.0</text>
<text class="s" x="67.3" y="284.9" font-size="16" text-anchor="end">6.0</text>
<text class="s" x="67.3" y="246.9" font-size="16" text-anchor="end">7.0</text>
<text class="s" x="67.3" y="208.9" font-size="16" text-anchor="end">8.0</text>
<text class="s" x="67.3" y="169.9" font-size="16" text-anchor="end">9.0</text>
<text class="s" x="67.3" y="131.9" font-size="16" text-anchor="end">10.0</text>
<text class="s" x="79.0" y="532.8" font-size="16" text-anchor="middle" textLength="35" lengthAdjust="spacingAndGlyphs">-20.1</text>
<text class="s" x="132.0" y="532.8" font-size="16" text-anchor="middle" textLength="35" lengthAdjust="spacingAndGlyphs">-16.9</text>
<text class="s" x="184.0" y="532.8" font-size="16" text-anchor="middle" textLength="35" lengthAdjust="spacingAndGlyphs">-13.8</text>
<text class="s" x="237.0" y="532.8" font-size="16" text-anchor="middle" textLength="35" lengthAdjust="spacingAndGlyphs">-10.6</text>
<text class="s" x="290.0" y="532.8" font-size="16" text-anchor="middle" >-7.4</text>
<text class="s" x="342.0" y="532.8" font-size="16" text-anchor="middle" >-4.2</text>
<text class="s" x="395.0" y="532.8" font-size="16" text-anchor="middle" >-1.1</text>
<text class="s" x="447.0" y="532.8" font-size="16" text-anchor="middle" >2.1</text>
<text class="s" x="500.0" y="532.8" font-size="16" text-anchor="middle" >5.3</text>
<text class="s" x="553.0" y="532.8" font-size="16" text-anchor="middle" >8.4</text>
<text class="s" x="605.0" y="532.8" font-size="16" text-anchor="middle" >11.6</text>
<text class="s" x="658.0" y="532.8" font-size="16" text-anchor="middle" >14.8</text>
<path d="M79 471.0H97M79 432.0H97M79 394.0H97M79 356.0H97M79 318.0H97M79 279.0H97M79 241.0H97M79 203.0H97M79 164.0H97M79 126.0H97M132.0 509V491M184.0 509V491M237.0 509V491M290.0 509V491M342.0 509V491M395.0 509V491M447.0 509V491M500.0 509V491M553.0 509V491M605.0 509V491" stroke="#000" stroke-width="2" fill="none"/>
<rect x="211.5" y="96.5" width="446.5" height="24" fill="#fff" stroke="#000" stroke-width="1"/>
<text class="s" x="215" y="112.8" font-size="17" textLength="439" lengthAdjust="spacingAndGlyphs">Cloud + Ice water mixing ratio Contours: .001 to .1 by .099</text>
<text class="s" x="368" y="564" font-size="23" text-anchor="middle" textLength="90" lengthAdjust="spacingAndGlyphs">longitude</text>
<text class="s" transform="translate(17.2 360.5) rotate(-90)" x="0" y="0" font-size="24.5" textLength="116" lengthAdjust="spacingAndGlyphs">Height (km)</text>
<text class="s" x="368" y="610.3" font-size="16.3" text-anchor="middle" textLength="354" lengthAdjust="spacingAndGlyphs">Biomass burning Age Distribution Mean  (days)</text>
<rect x="170.5" y="617.5" width="23.0" height="20.0" fill="#FEFEFC" stroke="#000" stroke-width="1"/>
<rect x="193.5" y="617.5" width="24.0" height="20.0" fill="#C0C0FF" stroke="#000" stroke-width="1"/>
<rect x="217.5" y="617.5" width="23.0" height="20.0" fill="#8080FF" stroke="#000" stroke-width="1"/>
<rect x="240.5" y="617.5" width="23.0" height="20.0" fill="#4040FF" stroke="#000" stroke-width="1"/>
<rect x="263.5" y="617.5" width="23.0" height="20.0" fill="#0000FF" stroke="#000" stroke-width="1"/>
<rect x="286.5" y="617.5" width="24.0" height="20.0" fill="#0020C8" stroke="#000" stroke-width="1"/>
<rect x="310.5" y="617.5" width="23.0" height="20.0" fill="#005A8C" stroke="#000" stroke-width="1"/>
<rect x="333.5" y="617.5" width="23.0" height="20.0" fill="#008250" stroke="#000" stroke-width="1"/>
<rect x="356.5" y="617.5" width="24.0" height="20.0" fill="#0AAF14" stroke="#000" stroke-width="1"/>
<rect x="380.5" y="617.5" width="23.0" height="20.0" fill="#3CC314" stroke="#000" stroke-width="1"/>
<rect x="403.5" y="617.5" width="23.0" height="20.0" fill="#78D200" stroke="#000" stroke-width="1"/>
<rect x="426.5" y="617.5" width="24.0" height="20.0" fill="#B9E800" stroke="#000" stroke-width="1"/>
<rect x="450.5" y="617.5" width="23.0" height="20.0" fill="#F3F900" stroke="#000" stroke-width="1"/>
<rect x="473.5" y="617.5" width="23.0" height="20.0" fill="#FFC800" stroke="#000" stroke-width="1"/>
<rect x="496.5" y="617.5" width="23.0" height="20.0" fill="#FF8200" stroke="#000" stroke-width="1"/>
<rect x="519.5" y="617.5" width="24.0" height="20.0" fill="#FF4B00" stroke="#000" stroke-width="1"/>
<rect x="543.5" y="617.5" width="23.0" height="20.0" fill="#FF0A00" stroke="#000" stroke-width="1"/>
<text class="s" x="193.8" y="665.8" font-size="15" text-anchor="middle">0</text>
<text class="s" x="217.1" y="665.8" font-size="15" text-anchor="middle">1</text>
<text class="s" x="240.4" y="665.8" font-size="15" text-anchor="middle">2</text>
<text class="s" x="263.7" y="665.8" font-size="15" text-anchor="middle">3</text>
<text class="s" x="287.0" y="665.8" font-size="15" text-anchor="middle">4</text>
<text class="s" x="310.3" y="665.8" font-size="15" text-anchor="middle">5</text>
<text class="s" x="333.6" y="665.8" font-size="15" text-anchor="middle">6</text>
<text class="s" x="356.9" y="665.8" font-size="15" text-anchor="middle">7</text>
<text class="s" x="380.1" y="665.8" font-size="15" text-anchor="middle">8</text>
<text class="s" x="403.4" y="665.8" font-size="15" text-anchor="middle">9</text>
<text class="s" x="426.7" y="665.8" font-size="15" text-anchor="middle">10</text>
<text class="s" x="450.0" y="665.8" font-size="15" text-anchor="middle">11</text>
<text class="s" x="473.3" y="665.8" font-size="15" text-anchor="middle">12</text>
<text class="s" x="496.6" y="665.8" font-size="15" text-anchor="middle">13</text>
<text class="s" x="519.9" y="665.8" font-size="15" text-anchor="middle">14</text>
<text class="s" x="543.2" y="665.8" font-size="15" text-anchor="middle">15</text>
</svg></body></html>
